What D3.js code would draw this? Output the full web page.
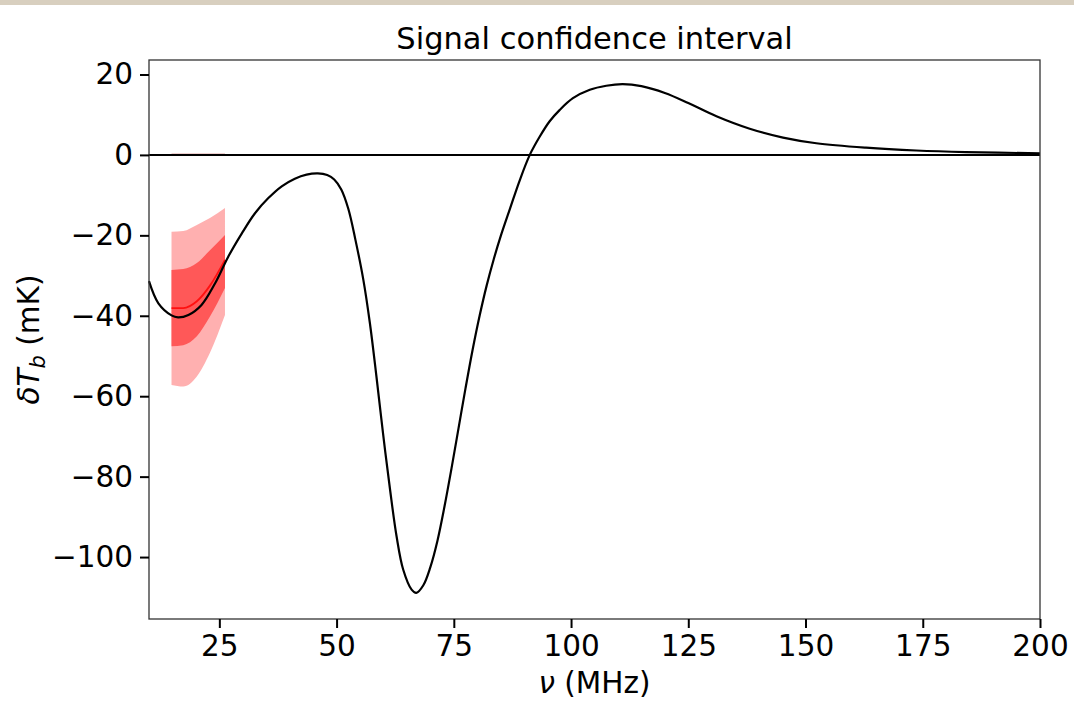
<!DOCTYPE html>
<html lang="en">
<head>
  <meta charset="UTF-8">
  <title>Signal confidence interval</title>
  <script src="https://d3js.org/d3.v7.min.js"></script>
  <style>
    body { margin: 0; background: #fff; font-family: "DejaVu Sans", sans-serif; }
    svg { display: block; }
  </style>
</head>
<body>
<div id="chart"></div>
<script>
// black model curve: frequency (MHz) and brightness temperature (mK)
const signalNu = [10, 12, 14.8, 16.2, 18.4, 21.2, 24.1, 26.9, 29.8, 32.6, 35.4, 38.3, 41.1, 43.6, 46.0,
  48.0, 49.5, 51.0, 52.5, 54.0, 55.7, 57.1, 58.5, 59.9, 61.4, 62.8, 64.2, 66.0, 67.0, 68.5,
  70.0, 71.5, 73.0, 74.5, 76.0, 77.5, 79.0, 80.5, 82.0, 83.5, 85.0, 87.0, 89.0, 91.2, 93.3,
  95.4, 97.6, 100.4, 104.0, 107.5, 111.0, 115.0, 120.0, 125.0, 131.0, 138.1, 145.2, 152.3, 162.9,
  173.6, 184.2, 200];
const signalT = [-31.4, -36.9, -39.9, -40.4, -39.8, -37.3, -31.9, -25.3, -19.5, -14.5, -10.8, -7.8, -5.9, -4.9, -4.6,
  -5.0, -6.1, -8.6, -13.4, -21.0, -31.0, -41.8, -55.1, -69.2, -83.2, -94.9, -103.1, -108.1, -108.9, -107.0,
  -102.5, -96.0, -87.5, -78.0, -68.0, -58.0, -48.5, -40.0, -32.5, -26.0, -20.2, -13.3, -6.5, 0, 4.5,
  8.3, 11.2, 14.1, 16.2, 17.2, 17.6, 17.1, 15.4, 12.9, 9.6, 6.5, 4.3, 2.9, 1.8,
  1.1, 0.7, 0.4];

// confidence bands
const bandNu = [14.8, 17.3, 20.2, 23.0, 26.2];
const outerTop = [-19.1, -18.9, -17.4, -15.7, -13.2];
const outerBottom = [-57.2, -57.6, -55.1, -49.2, -39.8];
const innerTop = [-28.6, -28.4, -26.9, -23.7, -19.9];
const innerBottom = [-47.6, -47.3, -45.1, -40.2, -33.1];
const median = [-38.1, -38.1, -36.4, -32.5, -26.1];

const xTicks = [25, 50, 75, 100, 125, 150, 175, 200];
const yTicks = [20, 0, -20, -40, -60, -80, -100];

const width = 1074, height = 711;
const margin = { left: 149, right: 34, top: 60, bottom: 92 };

const svg = d3.select("#chart").append("svg")
  .attr("width", width)
  .attr("height", height);

svg.append("rect").attr("width", width).attr("height", height).attr("fill", "#fff");
svg.append("rect").attr("width", width).attr("height", 5).attr("fill", "#d8cfbf");

const x = d3.scaleLinear().domain([10, 200]).range([margin.left, width - margin.right]);
const y = d3.scaleLinear().domain([-115.4, 23.6]).range([height - margin.bottom, margin.top]);

const plot = svg.append("g");

const area = (lo, hi) => d3.area()
  .x((d, i) => x(bandNu[i]))
  .y0((d, i) => y(lo[i]))
  .y1((d, i) => y(hi[i]))
  .curve(d3.curveMonotoneX)(bandNu);

plot.append("path").attr("d", area(outerBottom, outerTop)).attr("fill", "#ffb0b0");
plot.append("path").attr("d", area(innerBottom, innerTop)).attr("fill", "#ff5858");

plot.append("path")
  .attr("d", d3.line().x((d, i) => x(bandNu[i])).y((d, i) => y(median[i])).curve(d3.curveMonotoneX)(bandNu))
  .attr("fill", "none").attr("stroke", "#ff1010").attr("stroke-width", 1.8);

// zero line
plot.append("line")
  .attr("x1", x(bandNu[0])).attr("x2", x(bandNu[bandNu.length - 1]))
  .attr("y1", y(0) - 1).attr("y2", y(0) - 1)
  .attr("stroke", "#eed0d0").attr("stroke-width", 2);
plot.append("line")
  .attr("x1", x(10)).attr("x2", x(200))
  .attr("y1", y(0)).attr("y2", y(0))
  .attr("stroke", "#000").attr("stroke-width", 2);

plot.append("path")
  .attr("d", d3.line().x((d, i) => x(signalNu[i])).y(d => y(d)).curve(d3.curveCatmullRom.alpha(0.5))(signalT))
  .attr("fill", "none").attr("stroke", "#000").attr("stroke-width", 2.2);

// frame
svg.append("rect")
  .attr("x", margin.left).attr("y", margin.top)
  .attr("width", width - margin.left - margin.right)
  .attr("height", height - margin.top - margin.bottom)
  .attr("fill", "none").attr("stroke", "#333").attr("stroke-width", 1.3);

// axes
const xAxis = svg.append("g")
  .attr("transform", `translate(0,${height - margin.bottom})`)
  .call(d3.axisBottom(x).tickValues(xTicks).tickSize(9).tickPadding(7).tickFormat(d3.format("d")));
const yAxis = svg.append("g")
  .attr("transform", `translate(${margin.left},0)`)
  .call(d3.axisLeft(y).tickValues(yTicks).tickSize(9).tickPadding(7).tickFormat(d => d < 0 ? "\u2212" + Math.abs(d) : d));

[xAxis, yAxis].forEach(a => {
  a.select(".domain").remove();
  a.selectAll("line").attr("stroke", "#000").attr("stroke-width", 2);
  a.selectAll("text").attr("fill", "#000")
    .style("font-family", "'DejaVu Sans', sans-serif").style("font-size", "29.5px");
});

svg.append("text")
  .attr("x", (margin.left + width - margin.right) / 2).attr("y", 49)
  .attr("text-anchor", "middle")
  .style("font-size", "30.5px")
  .text("Signal confidence interval");

const xl = svg.append("text")
  .attr("x", (margin.left + width - margin.right) / 2).attr("y", 693)
  .attr("text-anchor", "middle")
  .style("font-size", "29.5px");
xl.append("tspan").attr("font-style", "italic").text("\u03bd");
xl.append("tspan").text(" (MHz)");

const yl = svg.append("text")
  .attr("transform", `translate(39,${(margin.top + height - margin.bottom) / 2}) rotate(-90)`)
  .attr("text-anchor", "middle")
  .style("font-size", "29.5px");
yl.append("tspan").attr("font-style", "italic").text("\u03b4T");
yl.append("tspan").attr("font-style", "italic").attr("font-size", "21px").attr("dy", 6).text("b");
yl.append("tspan").attr("dy", -6).text(" (mK)");
</script>
</body>
</html>
